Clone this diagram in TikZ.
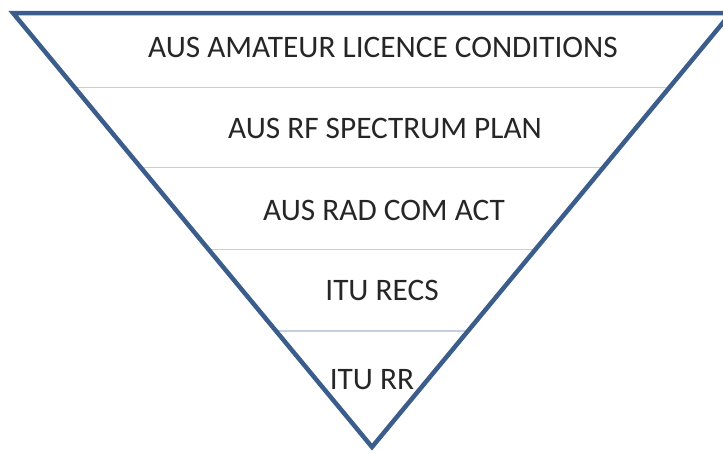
\documentclass[tikz,border=0pt]{standalone}
\usepackage{fontspec}
\setmainfont{Carlito}
\usepackage{xcolor}
\usepackage{tikz}
\usetikzlibrary{calc}
\definecolor{edgeblue}{RGB}{59,93,140}
\definecolor{sepgray}{RGB}{196,208,226}

\begin{document}
\begin{tikzpicture}[x=1pt, y=-1pt, tiertext/.style={text=black!85, font=\fontsize{31.3}{33}\selectfont, inner sep=0pt}]
    \useasboundingbox (0,0) rectangle (723,453);
    \coordinate (tl) at (13,13);
    \coordinate (tr) at (731,13);
    \coordinate (apex) at (372,447);
    \foreach \t in {0.172, 0.356, 0.545, 0.733} \draw[sepgray, line width=1.5pt] ($(tl)!\t!(apex)$) -- ($(tr)!\t!(apex)$);
    \draw[edgeblue, line width=4.5pt, line join=miter] (tl) -- (tr) -- (apex) -- cycle;
    \foreach \n/\x/\y/\txt in {licence/383/47/AUS AMATEUR LICENCE CONDITIONS, plan/385/128/AUS RF SPECTRUM PLAN, act/384/210/AUS RAD COM ACT, recs/382/290/ITU RECS, rr/372/380/ITU RR} \node[tiertext] (\n) at (\x,\y) {\txt};
\end{tikzpicture}
\end{document}
